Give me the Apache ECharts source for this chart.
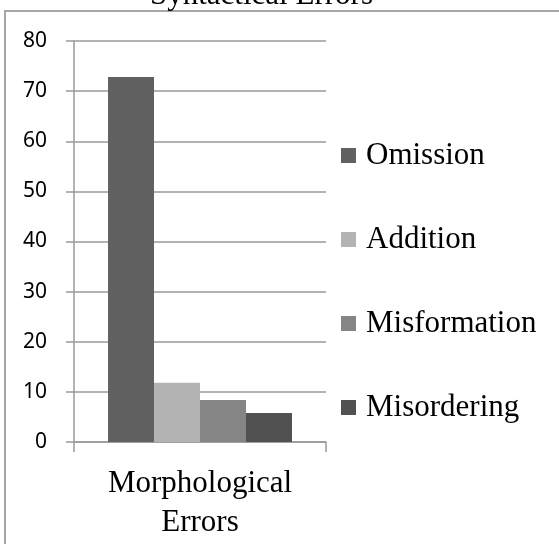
<!DOCTYPE html>
<html>
<head>
<meta charset="utf-8">
<script src="https://cdn.jsdelivr.net/npm/echarts@6/dist/echarts.min.js"></script>
<style>
  html, body { margin: 0; padding: 0; background: #fff; }
  #chart { width: 559px; height: 544px; }
</style>
</head>
<body>
<div id="chart"></div>
<script>
// values
const categories = ['Morphological\nErrors'];
const seriesNames = ['Omission', 'Addition', 'Misformation', 'Misordering'];
const seriesValues = [[72.8], [11.8], [8.4], [5.8]];
const seriesColors = ['#616161', '#b3b3b3', '#858585', '#515151'];

const serif = '"Liberation Serif", "Times New Roman", serif';

const chart = echarts.init(document.getElementById('chart'));

const option = {
  animation: false,
  title: {
    text: 'Syntactical Errors',
    left: 150,
    top: -20,
    padding: 0,
    textStyle: { fontFamily: serif, fontSize: 31, fontWeight: 'normal', color: '#000' }
  },
  graphic: [{
    type: 'rect',
    shape: { x: 5, y: 11, width: 700, height: 700 },
    style: { fill: 'none', stroke: '#a6a6a6', lineWidth: 2 },
    silent: true,
    z: -1
  }],
  legend: {
    orient: 'vertical',
    left: 341,
    top: 140,
    padding: 0,
    itemWidth: 15,
    itemHeight: 15,
    itemGap: 53,
    icon: 'rect',
    data: seriesNames,
    textStyle: { fontFamily: serif, fontSize: 31, lineHeight: 31, color: '#000', padding: [0, 0, 0, 5] }
  },
  grid: { left: 74, right: 233, top: 41, bottom: 102 },
  xAxis: {
    type: 'category',
    data: categories,
    axisLine: { lineStyle: { color: '#9a9a9a', width: 1.5 } },
    axisTick: { show: true, length: 10, lineStyle: { color: '#9a9a9a', width: 1.5 } },
    axisLabel: { fontFamily: serif, fontSize: 31, lineHeight: 39, color: '#000', margin: 22 }
  },
  yAxis: {
    type: 'value',
    min: 0,
    max: 80,
    interval: 10,
    axisLine: { show: true, lineStyle: { color: '#9a9a9a', width: 1.5 } },
    axisTick: { show: true, length: 8, lineStyle: { color: '#9a9a9a', width: 1.5 } },
    splitLine: { lineStyle: { color: '#9a9a9a', width: 1.5 } },
    axisLabel: { fontFamily: '"Noto Sans", sans-serif', fontSize: 21, color: '#000', margin: 27 }
  },
  series: seriesNames.map((name, i) => ({
    name: name,
    type: 'bar',
    data: seriesValues[i],
    barGap: 0,
    barCategoryGap: '27%',
    itemStyle: { color: seriesColors[i] }
  }))
};

chart.setOption(option);
</script>
</body>
</html>
